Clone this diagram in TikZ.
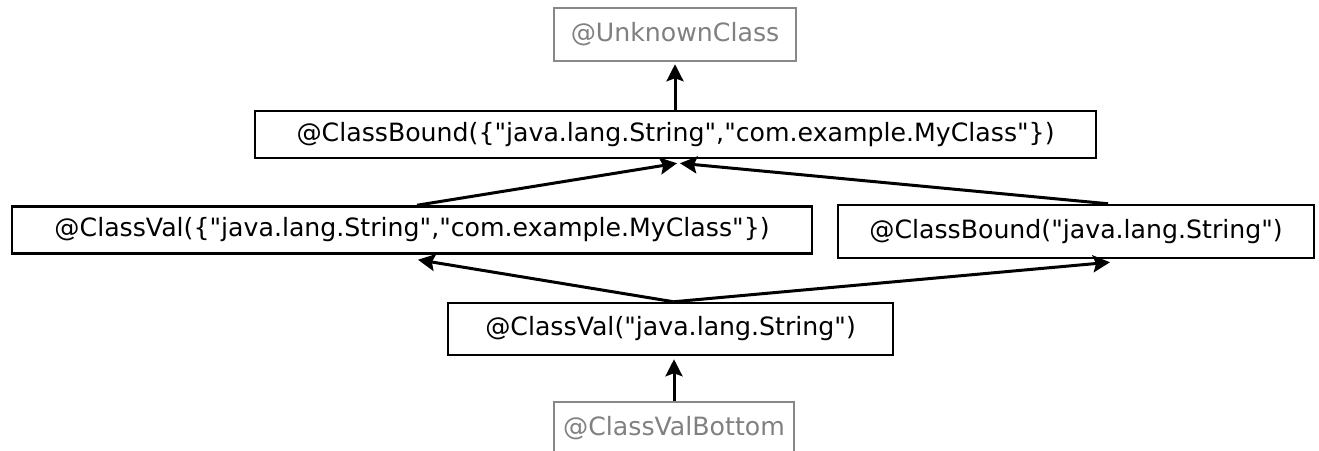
\documentclass[tikz,border=0pt]{standalone}
\usepackage{fontspec}
\setmainfont{DejaVu Sans}[Ligatures=TeXOff]
\usetikzlibrary{arrows.meta}
\definecolor{grayline}{HTML}{888888}
\definecolor{graytext}{HTML}{808080}
\tikzset{
  box/.style={draw=black, line width=2.5pt, rectangle, inner sep=0pt, font=\fontsize{25.2}{29}\selectfont, text=black},
  gbox/.style={box, draw=grayline, text=graytext},
  arr/.style={-{Stealth[length=17pt,width=17pt,inset=3pt]}, line width=3pt, black},
}
\begin{document}
\begin{tikzpicture}[x=1pt,y=-1pt]
\useasboundingbox (0,0) rectangle (1319,450);
\node[gbox, minimum width=242pt, minimum height=53pt] (unk) at (675,34.5) {@UnknownClass};
\node[box, minimum width=841pt, minimum height=47pt] (cbt) at (675.5,134.5) {@ClassBound(\{"java.lang.String","com.example.MyClass"\})};
\node[box, minimum width=800pt, minimum height=47pt] (cvl) at (412,230) {@ClassVal(\{"java.lang.String","com.example.MyClass"\})};
\node[box, minimum width=476pt, minimum height=53pt] (cbr) at (1076,231.5) {@ClassBound("java.lang.String")};
\node[box, minimum width=445pt, minimum height=52pt] (cvb) at (670.5,329) {@ClassVal("java.lang.String")};
\node[gbox, minimum width=240pt, minimum height=53pt] (bot) at (674,428.5) {@ClassValBottom};
\draw[arr] ([xshift=-0.5pt]cbt.north) -- ([yshift=-2pt]unk.south);
\draw[arr] ([xshift=5pt]cvl.north) -- ([xshift=1.5pt,yshift=-4pt]cbt.south);
\draw[arr] ([xshift=32pt]cbr.north) -- ([xshift=4.5pt,yshift=-4pt]cbt.south);
\draw[arr] ([xshift=3pt]cvb.north) -- ([xshift=6pt,yshift=-5pt]cvl.south);
\draw[arr] ([xshift=3pt]cvb.north) -- ([xshift=34pt,yshift=-3pt]cbr.south);
\draw[arr] (bot.north) -- ([xshift=3.5pt,yshift=-3pt]cvb.south);
\end{tikzpicture}
\end{document}
